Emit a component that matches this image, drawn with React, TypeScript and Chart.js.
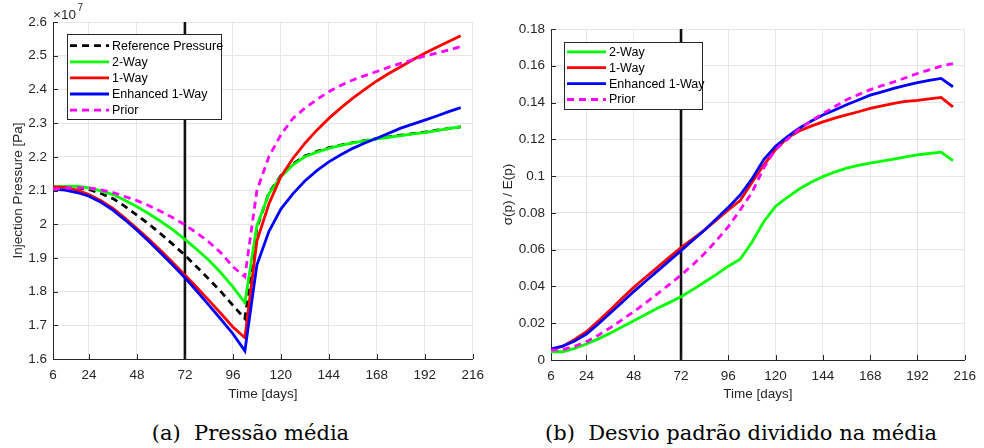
import React, { useEffect, useRef } from "react";
import { Chart, registerables } from "chart.js";

Chart.register(...registerables);

// ---------------- DATA ----------------
const DAYS = [6, 12, 18, 24, 30, 36, 42, 48, 54, 60, 66, 72, 78, 84, 90, 96, 102, 108, 114, 120, 126, 132, 138, 144, 150, 156, 162, 168, 174, 180, 186, 192, 198, 204, 210];
const X_TICKS = [6, 24, 48, 72, 96, 120, 144, 168, 192, 216];
const ASSIM_DAY = 72;

// (a) Injection pressure, units of 1e7 Pa
const REF_PRESSURE = [2.110, 2.110, 2.108, 2.103, 2.091, 2.076, 2.053, 2.027, 2.000, 1.971, 1.940, 1.908, 1.873, 1.837, 1.800, 1.759, 1.720, 1.990, 2.092, 2.144, 2.179, 2.202, 2.216, 2.227, 2.235, 2.242, 2.248, 2.254, 2.259, 2.264, 2.269, 2.273, 2.279, 2.284, 2.289];
const TWO_WAY_P = [2.111, 2.112, 2.113, 2.108, 2.099, 2.088, 2.071, 2.052, 2.031, 2.008, 1.983, 1.955, 1.925, 1.893, 1.856, 1.814, 1.767, 1.995, 2.090, 2.141, 2.176, 2.200, 2.214, 2.225, 2.234, 2.241, 2.247, 2.253, 2.258, 2.263, 2.268, 2.272, 2.278, 2.284, 2.289];
const ONE_WAY_P = [2.111, 2.109, 2.101, 2.088, 2.070, 2.047, 2.018, 1.987, 1.955, 1.921, 1.886, 1.849, 1.812, 1.774, 1.735, 1.695, 1.663, 1.950, 2.060, 2.141, 2.195, 2.240, 2.279, 2.314, 2.345, 2.374, 2.400, 2.425, 2.447, 2.467, 2.488, 2.507, 2.525, 2.542, 2.559];
const ENH_ONE_WAY_P = [2.104, 2.101, 2.094, 2.083, 2.065, 2.042, 2.013, 1.982, 1.949, 1.914, 1.878, 1.841, 1.801, 1.760, 1.718, 1.675, 1.624, 1.879, 1.978, 2.045, 2.090, 2.128, 2.159, 2.185, 2.206, 2.225, 2.241, 2.255, 2.270, 2.285, 2.297, 2.309, 2.321, 2.334, 2.346];
const PRIOR_P = [2.104, 2.107, 2.108, 2.108, 2.102, 2.094, 2.082, 2.070, 2.055, 2.038, 2.019, 1.998, 1.974, 1.947, 1.915, 1.874, 1.844, 2.100, 2.200, 2.265, 2.314, 2.344, 2.370, 2.393, 2.412, 2.428, 2.441, 2.453, 2.466, 2.477, 2.488, 2.499, 2.508, 2.517, 2.527];

// (b) sigma(p) / E(p)
const TWO_WAY_S = [0.0045, 0.0045, 0.0063, 0.0087, 0.0115, 0.0145, 0.0179, 0.0214, 0.0247, 0.0281, 0.0312, 0.0344, 0.0383, 0.0424, 0.0466, 0.0510, 0.0548, 0.0640, 0.0752, 0.0836, 0.0885, 0.0930, 0.0967, 0.0997, 0.1022, 0.1043, 0.1058, 0.1070, 0.1082, 0.1093, 0.1104, 0.1115, 0.1123, 0.1130, 0.1084];
const ONE_WAY_S = [0.0058, 0.0075, 0.0112, 0.0154, 0.0212, 0.0272, 0.0334, 0.0395, 0.0450, 0.0504, 0.0558, 0.0611, 0.0659, 0.0707, 0.0762, 0.0816, 0.0867, 0.0966, 0.1060, 0.1145, 0.1208, 0.1245, 0.1272, 0.1295, 0.1315, 0.1333, 0.1350, 0.1368, 0.1382, 0.1395, 0.1406, 0.1412, 0.1420, 0.1428, 0.1377];
const ENH_ONE_WAY_S = [0.0060, 0.0075, 0.0103, 0.0141, 0.0196, 0.0254, 0.0313, 0.0372, 0.0428, 0.0483, 0.0539, 0.0595, 0.0651, 0.0707, 0.0768, 0.0830, 0.0897, 0.0985, 0.1090, 0.1162, 0.1215, 0.1260, 0.1298, 0.1332, 0.1360, 0.1388, 0.1414, 0.1440, 0.1458, 0.1477, 0.1493, 0.1508, 0.1520, 0.1531, 0.1486];
const PRIOR_S = [0.0054, 0.0056, 0.0075, 0.0100, 0.0135, 0.0175, 0.0218, 0.0263, 0.0310, 0.0360, 0.0410, 0.0462, 0.0518, 0.0580, 0.0650, 0.0725, 0.0816, 0.0910, 0.1045, 0.1145, 0.1200, 0.1255, 0.1300, 0.1340, 0.1378, 0.1415, 0.1443, 0.1470, 0.1492, 0.1512, 0.1535, 0.1558, 0.1578, 0.1598, 0.1612];

// ---------------- STYLE ----------------
const FONT = '"Liberation Sans", Arial, Helvetica, sans-serif';
const AXIS_COLOR = "#262626";
const GRID_COLOR = "#e6e6e6";
const DASH = [7, 5];

type Series = { label: string; data: number[]; color: string; dash?: number[] };

type LegendLayout = { x: number; y: number; w: number; h: number; row0: number; rowStep: number; lineX0: number; lineX1: number; textX: number };

type ChartParams = {
  series: Series[];
  yMin: number; yMax: number; yStep: number; yDecimals: number;
  yTitle: string;
  padTop: number; padRight: number; yWidth: number; xHeight: number; yTitlePad: number;
  legend: LegendLayout;
  exponent?: boolean;
};

function buildConfig(p: ChartParams): any {
  const n = p.series.length;
  const datasets = p.series.map((s, i) => ({
    label: s.label,
    data: DAYS.map((d, k) => ({ x: d, y: s.data[k] })),
    borderColor: s.color,
    backgroundColor: s.color,
    borderWidth: 2.8,
    borderDash: s.dash || [],
    pointRadius: 0,
    fill: false,
    tension: 0,
    order: n - i,
  }));

  const vlinePlugin = {
    id: "vline",
    beforeDatasetsDraw(chart: any) {
      const { ctx, chartArea } = chart;
      const x = chart.scales.x.getPixelForValue(ASSIM_DAY);
      ctx.save();
      ctx.strokeStyle = "#111111";
      ctx.lineWidth = 2.6;
      ctx.beginPath();
      ctx.moveTo(x, chartArea.top);
      ctx.lineTo(x, chartArea.bottom);
      ctx.stroke();
      ctx.restore();
    },
  };

  const decorPlugin = {
    id: "decor",
    afterDatasetsDraw(chart: any) {
      const { ctx, chartArea } = chart;
      const xs = chart.scales.x;
      const ys = chart.scales.y;
      ctx.save();
      // inward tick marks
      ctx.strokeStyle = AXIS_COLOR;
      ctx.lineWidth = 1;
      ctx.beginPath();
      xs.ticks.forEach((t: any) => {
        const px = Math.round(xs.getPixelForValue(t.value)) + 0.5;
        ctx.moveTo(px, chartArea.bottom);
        ctx.lineTo(px, chartArea.bottom - 5);
      });
      ys.ticks.forEach((t: any) => {
        const py = Math.round(ys.getPixelForValue(t.value)) + 0.5;
        ctx.moveTo(chartArea.left, py);
        ctx.lineTo(chartArea.left + 5, py);
      });
      ctx.stroke();

      // legend
      const L = p.legend;
      ctx.fillStyle = "#ffffff";
      ctx.fillRect(L.x, L.y, L.w, L.h);
      ctx.strokeStyle = AXIS_COLOR;
      ctx.lineWidth = 1;
      ctx.strokeRect(L.x + 0.5, L.y + 0.5, L.w, L.h);
      ctx.font = `12.5px ${FONT}`;
      ctx.textBaseline = "middle";
      ctx.textAlign = "left";
      p.series.forEach((s, i) => {
        const y = L.row0 + i * L.rowStep;
        ctx.strokeStyle = s.color;
        ctx.lineWidth = 2.8;
        ctx.setLineDash(s.dash || []);
        ctx.beginPath();
        ctx.moveTo(L.lineX0, y);
        ctx.lineTo(L.lineX1, y);
        ctx.stroke();
        ctx.setLineDash([]);
        ctx.fillStyle = "#000000";
        ctx.fillText(s.label, L.textX, y + 0.5);
      });

      // exponent label
      if (p.exponent) {
        ctx.fillStyle = AXIS_COLOR;
        ctx.font = `13.5px ${FONT}`;
        ctx.textBaseline = "middle";
        ctx.fillText("\u00d710", chartArea.left, 15);
        const w = ctx.measureText("\u00d710").width;
        ctx.font = `10px ${FONT}`;
        ctx.fillText("7", chartArea.left + w + 1.5, 8);
      }
      ctx.restore();
    },
  };

  return {
    type: "line",
    data: { datasets },
    plugins: [vlinePlugin, decorPlugin],
    options: {
      responsive: false,
      maintainAspectRatio: false,
      animation: false,
      devicePixelRatio: 1,
      layout: { padding: { top: p.padTop, right: p.padRight, left: 0, bottom: 0 } },
      plugins: { legend: { display: false }, tooltip: { enabled: false }, title: { display: false } },
      scales: {
        x: {
          type: "linear",
          min: 6,
          max: 216,
          afterBuildTicks: (s: any) => {
            s.ticks = X_TICKS.map((v) => ({ value: v }));
          },
          afterFit: (s: any) => {
            s.height = p.xHeight;
          },
          grid: { color: GRID_COLOR, lineWidth: 1, drawTicks: false },
          border: { display: true, color: AXIS_COLOR, width: 1 },
          ticks: {
            color: AXIS_COLOR,
            font: { family: FONT, size: 13.5 },
            padding: 8,
            maxRotation: 0,
            autoSkip: false,
            callback: (v: any) => String(v),
          },
          title: {
            display: true,
            text: "Time [days]",
            color: AXIS_COLOR,
            font: { family: FONT, size: 13.5 },
            padding: { top: 0, bottom: 8 },
          },
        },
        y: {
          type: "linear",
          min: p.yMin,
          max: p.yMax,
          afterFit: (s: any) => {
            s.width = p.yWidth;
          },
          grid: { color: GRID_COLOR, lineWidth: 1, drawTicks: false },
          border: { display: true, color: AXIS_COLOR, width: 1 },
          ticks: {
            stepSize: p.yStep,
            color: AXIS_COLOR,
            font: { family: FONT, size: 13.5 },
            padding: 6,
            callback: (v: any) => Number(Number(v).toFixed(p.yDecimals)).toString(),
          },
          title: {
            display: true,
            text: p.yTitle,
            color: AXIS_COLOR,
            font: { family: FONT, size: 13.5 },
            padding: { top: p.yTitlePad, bottom: 0 },
          },
        },
      },
    },
  };
}

function ChartCanvas({ params, left }: { params: ChartParams; left: number }) {
  const ref = useRef<HTMLCanvasElement | null>(null);
  useEffect(() => {
    if (!ref.current) return;
    const chart = new Chart(ref.current, buildConfig(params));
    return () => chart.destroy();
  }, []);
  return (
    <canvas
      ref={ref}
      width={492}
      height={410}
      style={{ position: "absolute", left, top: 0, width: 492, height: 410, display: "block" }}
    />
  );
}

const pressureParams: ChartParams = {
  series: [
    { label: "Reference Pressure", data: REF_PRESSURE, color: "#000000", dash: DASH },
    { label: "2-Way", data: TWO_WAY_P, color: "#00ff00" },
    { label: "1-Way", data: ONE_WAY_P, color: "#ff0000" },
    { label: "Enhanced 1-Way", data: ENH_ONE_WAY_P, color: "#0000ff" },
    { label: "Prior", data: PRIOR_P, color: "#ff00ff", dash: DASH },
  ],
  yMin: 1.6, yMax: 2.6, yStep: 0.1, yDecimals: 1,
  yTitle: "Injection Pressure [Pa]",
  padTop: 22, padRight: 11, yWidth: 53, xHeight: 51, yTitlePad: 10,
  legend: { x: 67, y: 34, w: 154, h: 85, row0: 45.7, rowStep: 16.1, lineX0: 70, lineX1: 109, textX: 112 },
  exponent: true,
};

const sigmaParams: ChartParams = {
  series: [
    { label: "2-Way", data: TWO_WAY_S, color: "#00ff00" },
    { label: "1-Way", data: ONE_WAY_S, color: "#ff0000" },
    { label: "Enhanced 1-Way", data: ENH_ONE_WAY_S, color: "#0000ff" },
    { label: "Prior", data: PRIOR_S, color: "#ff00ff", dash: DASH },
  ],
  yMin: 0, yMax: 0.18, yStep: 0.02, yDecimals: 2,
  yTitle: "\u03c3(p) / E(p)",
  padTop: 29, padRight: 13, yWidth: 59, xHeight: 50, yTitlePad: 8,
  legend: { x: 72, y: 42, w: 138, h: 67, row0: 51.8, rowStep: 15.9, lineX0: 75, lineX1: 114, textX: 117 },
};

const captionStyle: React.CSSProperties = {
  position: "absolute",
  top: 420,
  height: 26,
  lineHeight: "26px",
  fontSize: 21,
  color: "#000",
  textAlign: "center",
  whiteSpace: "nowrap",
  fontFamily: "'DejaVu Serif', 'Liberation Serif', serif",
};

export default function App() {
  return (
    <div style={{ position: "absolute", left: 0, top: 0, width: 984, height: 448, background: "#fff", overflow: "hidden" }}>
      <ChartCanvas params={pressureParams} left={0} />
      <ChartCanvas params={sigmaParams} left={492} />
      <div style={{ ...captionStyle, left: 0, width: 501 }}>(a)&nbsp;&nbsp;Pressão média</div>
      <div style={{ ...captionStyle, left: 492, width: 498 }}>(b)&nbsp;&nbsp;Desvio padrão dividido na média</div>
    </div>
  );
}
